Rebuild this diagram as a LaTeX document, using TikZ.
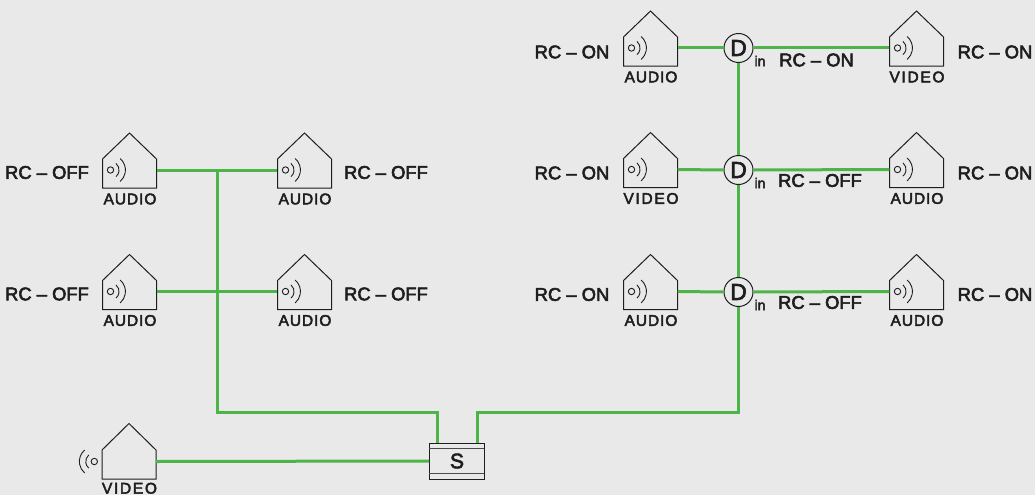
\documentclass[tikz,border=0pt]{standalone}
\usepackage{fontspec}
\setmainfont{Liberation Sans}
\definecolor{bgc}{HTML}{E9E9E9}
\definecolor{wirec}{HTML}{4DB449}
\definecolor{inkc}{HTML}{1E1E1E}
\newfontfamily\kindfont[LetterSpace=6,FakeBold=3]{Liberation Sans}
\newfontfamily\kindwidefont[LetterSpace=11,FakeBold=3]{Liberation Sans}
\newfontfamily\labelfont[FakeBold=3]{Liberation Sans}
\tikzset{
  x=1pt,y=-1pt,
  wire/.style={draw=wirec,line width=3pt},
  housecase/.style={draw=inkc,line width=1pt,line join=miter},
  soundwave/.style={draw=inkc,line width=0.9pt},
  porthole/.style={inner sep=0pt,minimum width=54pt,minimum height=20pt},
  rclabel/.style={font=\labelfont\fontsize{18.4}{20}\selectfont,text=inkc,inner sep=0pt},
  kindlabel/.style={font=\kindfont\fontsize{15.5}{17}\selectfont,text=inkc,inner sep=0pt},
  dnode/.style={circle,draw=inkc,line width=1pt,fill=bgc,minimum size=29pt,inner sep=0pt,font=\labelfont\fontsize{23}{24}\selectfont,text=inkc},
  inlabel/.style={font=\labelfont\fontsize{14}{16}\selectfont,text=inkc,inner sep=0pt},
  snode/.style={draw=inkc,line width=1pt,fill=bgc,minimum width=55pt,minimum height=36pt,inner sep=0pt,font=\labelfont\fontsize{21}{22}\selectfont,text=inkc},
  sbar/.style={draw=inkc!80,line width=1.4pt}
}
% name, left x, port y, label text
\newcommand{\house}[4]{%
  \begin{scope}[shift={(#2,#3)}]
    \node[porthole] (#1) at (27,0) {};
    \draw[housecase] (0,-11) -- (27,-37) -- (54,-11) -- (54,18) -- (0,18) -- cycle;
    \node[kindlabel] (#1-kind) at (27.5,29) {#4};
    \draw[soundwave] (8,0) circle[radius=3.2];
    \draw[soundwave] (13.5,-6.6) arc[start angle=-50,end angle=50,radius=8.6];
    \draw[soundwave] (17.6,-11.5) arc[start angle=-50,end angle=50,radius=15];
  \end{scope}}
\begin{document}
\begin{tikzpicture}
\useasboundingbox[fill=bgc] (0,0) rectangle (1035,495);
% left group
\house{la}{102.5}{170}{AUDIO}
\house{lb}{277.5}{170}{AUDIO}
\house{lc}{102.5}{291.5}{AUDIO}
\house{ld}{277.5}{291.5}{AUDIO}
% right group
\house{ra}{623.5}{48}{AUDIO}
\house{rb}{623.5}{169.5}{\kindwidefont\fontsize{15.5}{17}\selectfont VIDEO}
\house{rc}{623.5}{291.5}{AUDIO}
\house{sa}{889.5}{48}{\kindwidefont\fontsize{15.5}{17}\selectfont VIDEO}
\house{sb}{889.5}{169.5}{AUDIO}
\house{sc}{889.5}{291.5}{AUDIO}
% source
\begin{scope}[shift={(102,461.5)}]
  \node[porthole] (vs) at (27,0) {};
  \draw[housecase] (0,-11.5) -- (27,-38) -- (54,-11.5) -- (54,17.5) -- (0,17.5) -- cycle;
  \node[kindlabel] (vs-kind) at (27.5,26.8) {\kindwidefont\fontsize{15.5}{17}\selectfont VIDEO};
  \draw[soundwave] (-7.7,0) circle[radius=3.2];
  \draw[soundwave] (-13.2,-6.6) arc[start angle=230,end angle=130,radius=8.6];
  \draw[soundwave] (-17.3,-11.5) arc[start angle=230,end angle=130,radius=15];
\end{scope}
% distribution
\node[dnode] (da) at (738.5,48) {D};
\node[dnode] (db) at (738.5,170) {D};
\node[dnode] (dc) at (738.5,292) {D};
\node[inlabel] (ia) at (760,61) {in};
\node[inlabel] (ib) at (760,183) {in};
\node[inlabel] (ic) at (760,305) {in};
\node[snode] (S) at (457,461) {S};
\draw[sbar] (S.north west) ++(0,6) -- ++(55,0);
\draw[sbar] (S.south west) ++(0,-6) -- ++(55,0);
% routing points
\coordinate (jt) at (217,170);
\coordinate (cl) at (437,412);
\coordinate (sl) at (437,443);
\coordinate (cr) at (477,412);
\coordinate (sr) at (477,443);
% connectors
\draw[wire] (la.east) -- (lb.west);
\draw[wire] (lc.east) -- (ld.west);
\draw[wire] (jt) |- (cl) -- (sl);
\draw[wire] (sr) -- (cr) -| (dc.south);
\draw[wire] (dc.north) -- (db.south);
\draw[wire] (db.north) -- (da.south);
\draw[wire] (ra.east) -- (da.west);
\draw[wire] (rb.east) -- (db.west);
\draw[wire] (rc.east) -- (dc.west);
\draw[wire] (da.east) -- (sa.west);
\draw[wire] (db.east) -- (sb.west);
\draw[wire] (dc.east) -- (sc.west);
\draw[wire] (vs.east) -- (S.west);
% labels
\node[rclabel] (t1) at (47,172.5) {RC – OFF};
\node[rclabel] (t2) at (47,294) {RC – OFF};
\node[rclabel] (t3) at (386,172.5) {RC – OFF};
\node[rclabel] (t4) at (386,294) {RC – OFF};
\node[rclabel] (t5) at (572,52) {RC – ON};
\node[rclabel] (t6) at (572,173) {RC – ON};
\node[rclabel] (t7) at (572,294.5) {RC – ON};
\node[rclabel] (t8) at (995,52) {RC – ON};
\node[rclabel] (t9) at (995,173) {RC – ON};
\node[rclabel] (t10) at (995,294.5) {RC – ON};
\node[rclabel] (t11) at (816.5,60) {RC – ON};
\node[rclabel] (t12) at (820,180.5) {RC – OFF};
\node[rclabel] (t13) at (820,302.5) {RC – OFF};
\end{tikzpicture}
\end{document}
